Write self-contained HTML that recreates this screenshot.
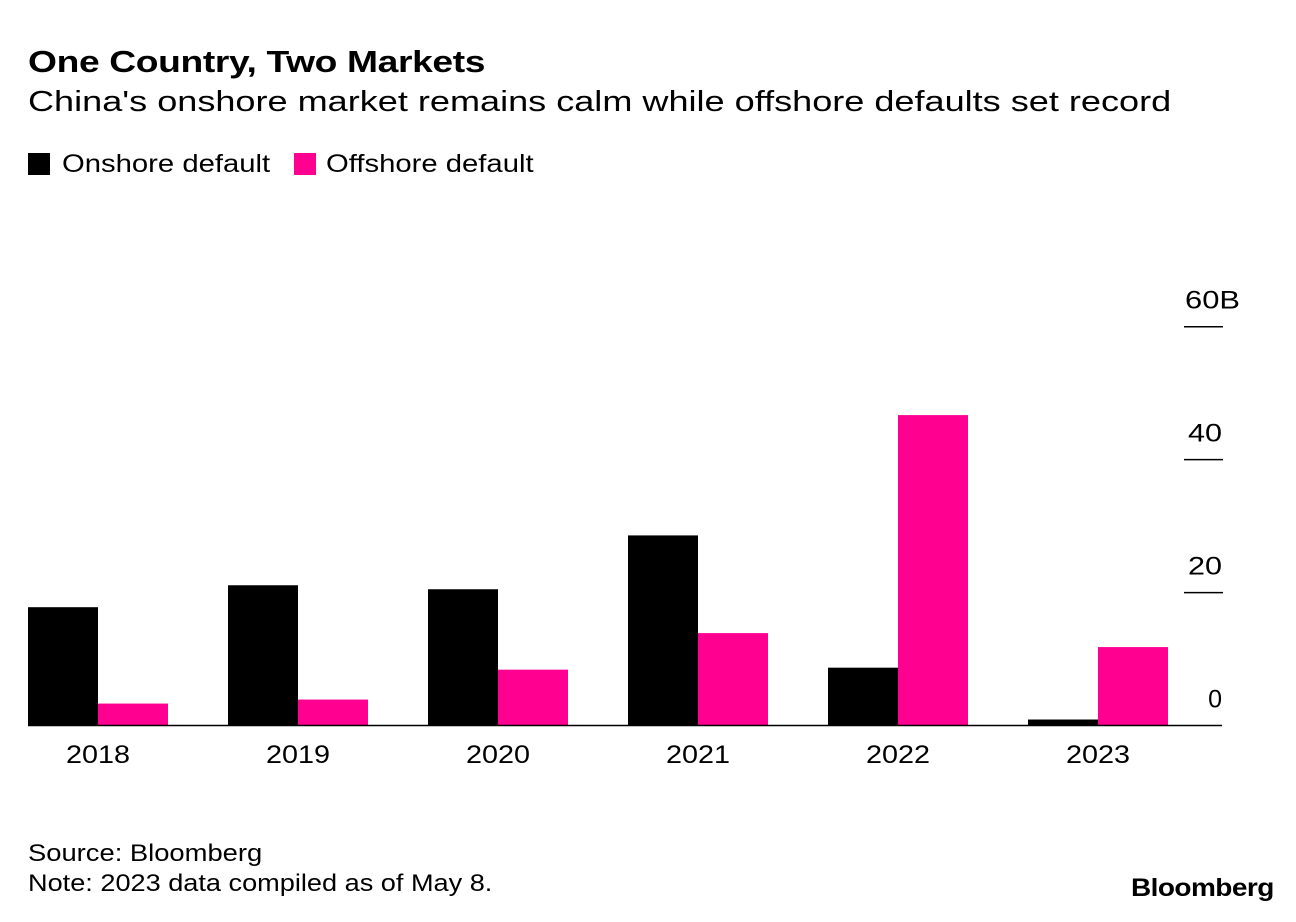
<!DOCTYPE html>
<html><head><meta charset="utf-8"><style>
body{margin:0;background:#fff;font-family:"Liberation Sans",Arial,sans-serif;}
#wrap{position:relative;width:1296px;height:922px;overflow:hidden;}
.t{position:absolute;white-space:nowrap;color:#000;transform-origin:0 0;}
</style></head><body>
<div id="wrap">
<div class="t" style="left:28px;top:44px;font-size:31px;font-weight:bold;letter-spacing:-0.3px;transform:scaleX(1.2)">One Country, Two Markets</div>
<div class="t" style="left:28px;top:86px;font-size:29px;transform:scaleX(1.244)">China's onshore market remains calm while offshore defaults set record</div>
<div style="position:absolute;left:28px;top:153px;width:22px;height:22px;background:#000"></div>
<div class="t" style="left:62px;top:150px;font-size:25px;transform:scaleX(1.17)">Onshore default</div>
<div style="position:absolute;left:294px;top:153px;width:22px;height:22px;background:#ff0090"></div>
<div class="t" style="left:326px;top:150px;font-size:25px;transform:scaleX(1.17)">Offshore default</div>
<svg id="chart" width="1296" height="922" style="position:absolute;left:0;top:0"></svg>
<div class="t" style="left:28px;top:840px;font-size:24px;transform:scaleX(1.14)">Source: Bloomberg</div>
<div class="t" style="left:28px;top:870px;font-size:24px;transform:scaleX(1.13)">Note: 2023 data compiled as of May 8.</div>
<div class="t" style="left:1131px;top:874px;font-size:25px;font-weight:bold;letter-spacing:-0.5px;transform:scaleX(1.12)">Bloomberg</div>
</div>
<script>
const categories=["2018","2019","2020","2021","2022","2023"];
const onshore=[17.8,21.1,20.5,28.6,8.7,0.9];
const offshore=[3.3,3.9,8.4,13.9,46.7,11.8];
const ticks=[0,20,40,60];
const tickLabels=["0","20","40","60B"];
const svg=document.getElementById('chart');
const NS="http://www.w3.org/2000/svg";
const y0=725.5,pxPer=(725.5-326.7)/60;
function yS(v){return y0-v*pxPer;}
function xS(i){return 28+200*i;}
function mk(tag,attrs){const e=document.createElementNS(NS,tag);for(const k in attrs)e.setAttribute(k,attrs[k]);svg.appendChild(e);return e;}
categories.forEach((c,i)=>{
  const a=mk('rect',{x:xS(i),y:yS(onshore[i]),width:70,height:y0-yS(onshore[i]),fill:'#000'});
  
  
  const b=mk('rect',{x:xS(i)+70,y:yS(offshore[i]),width:70,height:y0-yS(offshore[i]),fill:'#ff0090'});
  
  
  const t=mk('text',{x:xS(i)+38,y:763,'font-size':25,textLength:64,lengthAdjust:'spacingAndGlyphs','font-family':'Liberation Sans, Arial, sans-serif'});
  t.textContent=c;
  
  
});
ticks.forEach((v,i)=>{
  const y=yS(v);
  if(v===0){
    const l=mk('line',{x1:28,x2:1222,y1:y,y2:y,stroke:'#000','stroke-width':1.5});
    
    
  }else{
    const l=mk('line',{x1:1184,x2:1223,y1:y,y2:y,stroke:'#000','stroke-width':1.5});
    
    
  }
  const t=mk('text',{x:v===60?1185:1222,y:y-18,'font-size':25,'text-anchor':v===60?'start':'end','font-family':'Liberation Sans, Arial, sans-serif'});
  if(v===60){t.setAttribute('textLength',55);t.setAttribute('lengthAdjust','spacingAndGlyphs');}
  else if(v!==0){t.setAttribute('textLength',34);t.setAttribute('lengthAdjust','spacingAndGlyphs');}
  t.textContent=tickLabels[i];
  
  
});
</script>
</body></html>
